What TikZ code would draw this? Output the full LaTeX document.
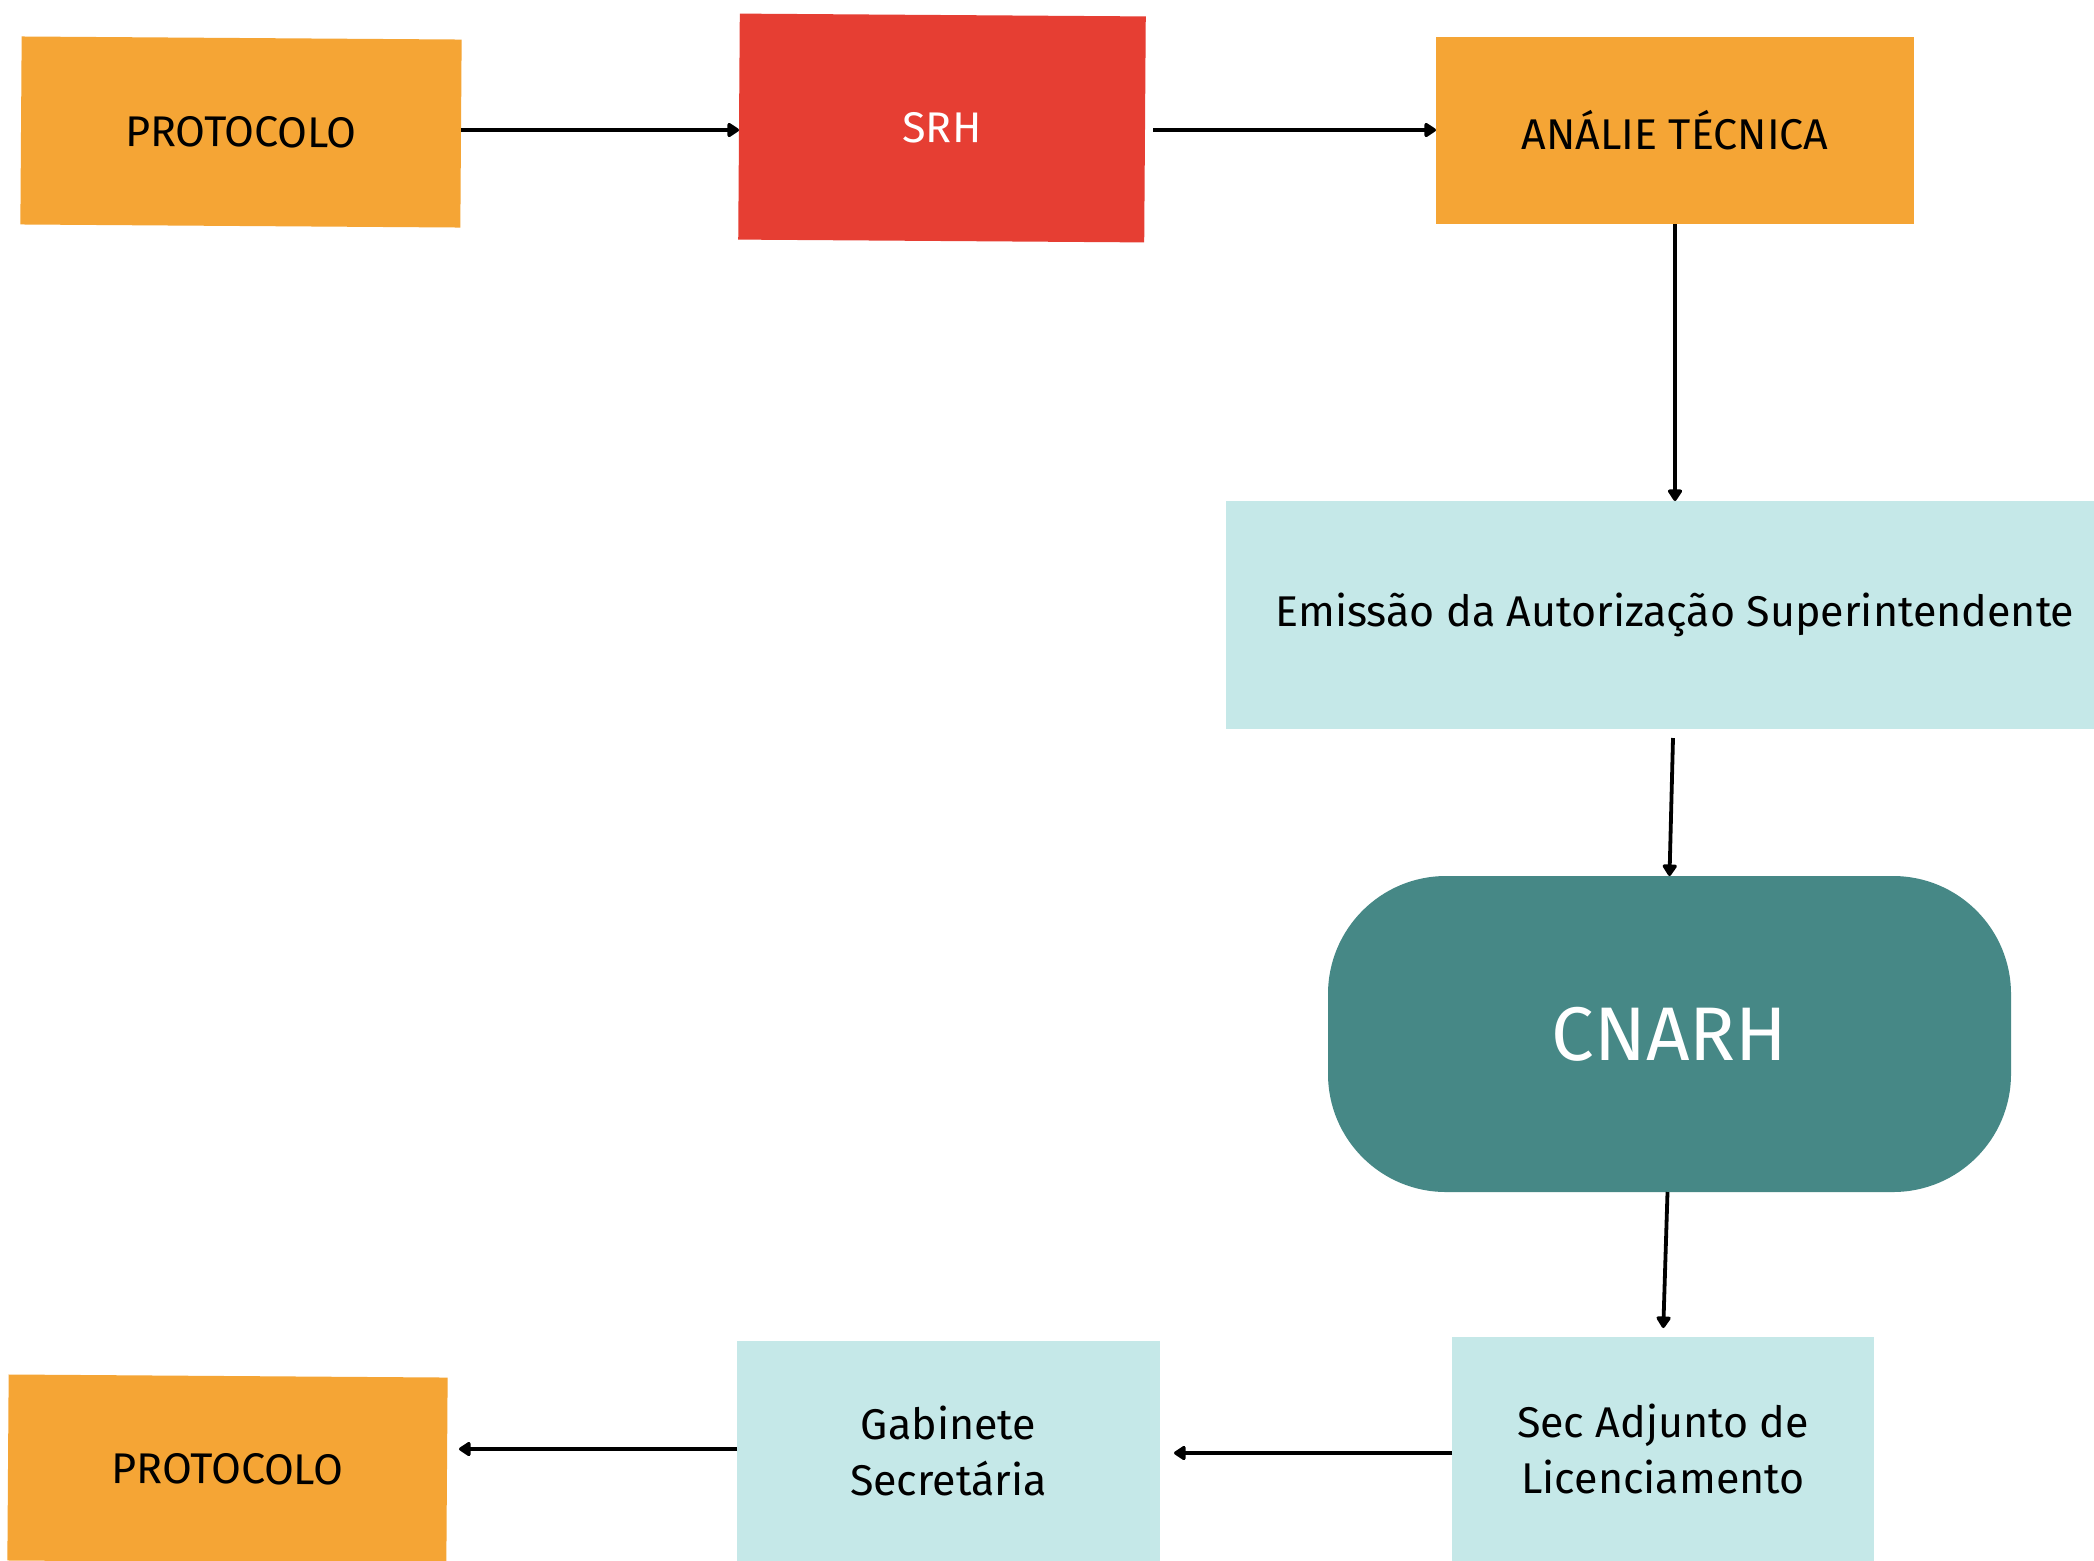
\documentclass[tikz,border=0pt]{standalone}
\usepackage{fontspec}
\setmainfont{Fira Sans}
\usetikzlibrary{arrows.meta,calc}
\definecolor{orangebox}{HTML}{F5A535}
\definecolor{redbox}{HTML}{E63E33}
\definecolor{lightteal}{HTML}{C5E8E8}
\definecolor{darkteal}{HTML}{468886}
\begin{document}
\begin{tikzpicture}[x=0.5pt,y=-0.5pt,
  box/.style={rectangle,inner sep=0pt,outer sep=0pt,draw=none,align=center,
    font=\fontsize{21.5}{28}\selectfont},
  orangestep/.style={box,fill=orangebox,text=black},
  redstep/.style={box,fill=redbox,text=white},
  lightstep/.style={box,fill=lightteal,text=black},
  arr/.style={line width=1.9pt,-{Triangle[length=6.5pt,width=8pt,round]}}]
\useasboundingbox[fill=white] (0,0) rectangle (2094,1560);
\node[orangestep,minimum width=220pt,minimum height=94pt,rotate=-0.4] (p1) at (241,132) {PROTOCOLO};
\node[redstep,minimum width=203pt,minimum height=113pt,rotate=-0.4] (srh) at (942,128) {SRH};
\node[orangestep,minimum width=239pt,minimum height=93.5pt] (ana) at (1675,130.5) {ANÁLIE TÉCNICA};
\node[lightstep,minimum width=449pt,minimum height=114pt] (emi) at (1675,615) {Emissão da Autorização Superintendente};
\node[box,fill=darkteal,text=white,rounded corners=59pt,minimum width=341.5pt,minimum height=158pt,
  font=\fontsize{38}{42}\selectfont] (cn) at (1669.5,1034) {CNARH};
\node[lightstep,minimum width=211pt,minimum height=112pt] (sec) at (1663,1449) {Sec Adjunto de\\Licenciamento};
\node[lightstep,minimum width=211.5pt,minimum height=110pt] (gab) at (948.5,1451) {Gabinete\\Secretária};
\node[orangestep,minimum width=219.5pt,minimum height=93pt,rotate=-0.4] (p2) at (227.5,1469) {PROTOCOLO};
\draw[arr] (p1.east |- 0,130) -- (srh.west |- 0,130);
\draw[arr] ($(srh.east |- 0,130)+(8,0)$) -- (ana.west |- 0,130);
\draw[arr] (ana.south) -- (emi.north);
\draw[arr] ($(emi.south)+(-2,9)$) -- (cn.north);
\draw[arr,shorten >=4.5pt] ($(cn.south)+(-2,0)$) -- (sec.north);
\draw[arr,shorten >=7pt] (sec.west |- 0,1453) -- (gab.east |- 0,1453);
\draw[arr,shorten >=6pt] (gab.west |- 0,1449) -- (p2.east |- 0,1449);
\end{tikzpicture}
\end{document}
